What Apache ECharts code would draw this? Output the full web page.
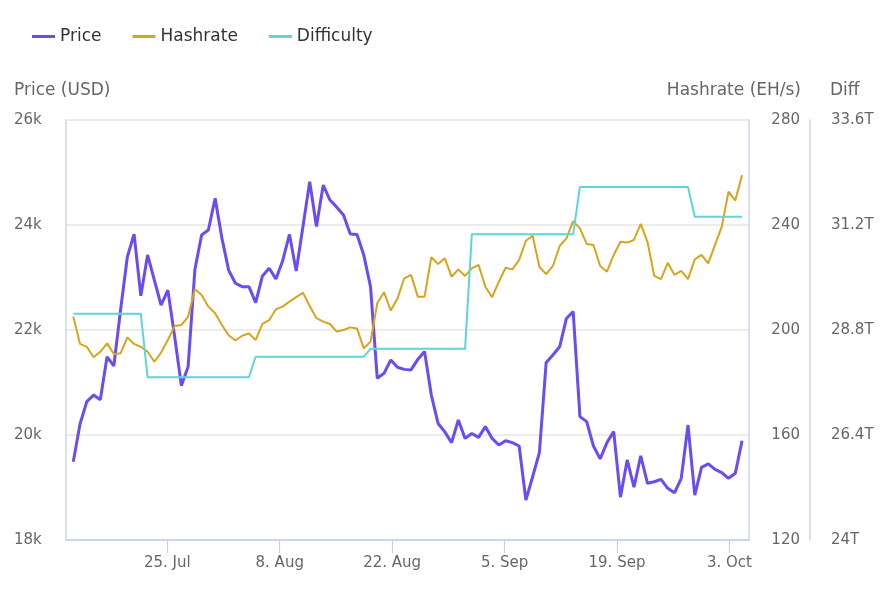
<!DOCTYPE html>
<html>
<head>
<meta charset="utf-8">
<script src="https://cdn.jsdelivr.net/npm/echarts@6/dist/echarts.min.js"></script>
<style>
  html, body { margin: 0; padding: 0; background: #fff; }
  #chart { width: 893px; height: 595px; }
</style>
</head>
<body>
<div id="chart"></div>
<script>
/* data: 100 samples, 13 Jul - 4 Oct 2022 */
const sampleStart = Date.UTC(2022, 6, 13, 7);
const sampleStepHours = 20.19;

const priceUsd = [
  19490, 20210, 20635, 20760, 20670, 21490, 21315, 22380, 23390, 23825,
  22650, 23430, 22950, 22475, 22760, 21880, 20940, 21300, 23150, 23810,
  23905, 24510, 23750, 23140, 22890, 22825, 22825, 22520, 23030, 23175,
  22970, 23320, 23820, 23125, 23970, 24825, 23970, 24760, 24475, 24340,
  24190, 23830, 23820, 23430, 22825, 21080, 21175, 21430, 21290, 21250,
  21240, 21440, 21590, 20760, 20220, 20060, 19855, 20285, 19935, 20030,
  19955, 20160, 19935, 19810, 19890, 19855, 19790, 18760, 19205, 19665,
  21380, 21525, 21680, 22220, 22350, 20350, 20255, 19790, 19545, 19855,
  20065, 18815, 19525, 19005, 19605, 19080, 19110, 19155, 18985, 18900,
  19175, 20190, 18855, 19385, 19450, 19345, 19285, 19175, 19270, 19890
];

const hashrateEh = [
  205.1, 194.7, 193.6, 189.6, 191.7, 194.9, 190.9, 191.1, 197.2, 194.7,
  193.6, 191.7, 187.9, 191.4, 196.2, 201.5, 201.9, 205.1, 215.5, 213.3,
  208.9, 206.4, 201.9, 198.0, 196.0, 197.8, 198.7, 196.2, 202.3, 203.8,
  207.9, 208.9, 210.8, 212.5, 214.2, 209.1, 204.5, 203.2, 202.3, 199.4,
  200.0, 201.0, 200.6, 193.0, 195.5, 210.2, 214.4, 207.4, 212.1, 219.7,
  221.0, 212.7, 212.7, 227.7, 225.1, 227.3, 220.3, 223.1, 220.6, 223.5,
  224.8, 216.5, 212.5, 218.4, 223.7, 223.1, 226.7, 234.0, 235.9, 224.1,
  221.3, 224.4, 232.0, 234.9, 241.5, 238.7, 232.8, 232.4, 224.4, 222.2,
  228.6, 233.6, 233.3, 234.3, 240.4, 233.6, 220.6, 219.4, 225.6, 221.0,
  222.5, 219.4, 226.9, 228.6, 225.4, 232.4, 239.4, 252.7, 249.3, 259.0
];

// difficulty in T
const difficultyT = [
  29.17, 29.17, 29.17, 29.17, 29.17, 29.17, 29.17, 29.17, 29.17, 29.17,
  29.17, 27.72, 27.72, 27.72, 27.72, 27.72, 27.72, 27.72, 27.72, 27.72,
  27.72, 27.72, 27.72, 27.72, 27.72, 27.72, 27.72, 28.19, 28.19, 28.19,
  28.19, 28.19, 28.19, 28.19, 28.19, 28.19, 28.19, 28.19, 28.19, 28.19,
  28.19, 28.19, 28.19, 28.19, 28.37, 28.37, 28.37, 28.37, 28.37, 28.37,
  28.37, 28.37, 28.37, 28.37, 28.37, 28.37, 28.37, 28.37, 28.37, 30.99,
  30.99, 30.99, 30.99, 30.99, 30.99, 30.99, 30.99, 30.99, 30.99, 30.99,
  30.99, 30.99, 30.99, 30.99, 30.99, 32.07, 32.07, 32.07, 32.07, 32.07,
  32.07, 32.07, 32.07, 32.07, 32.07, 32.07, 32.07, 32.07, 32.07, 32.07,
  32.07, 32.07, 31.39, 31.39, 31.39, 31.39, 31.39, 31.39, 31.39, 31.39
];

const tickDates = ['2022-07-25', '2022-08-08', '2022-08-22', '2022-09-05', '2022-09-19', '2022-10-03'];
const monthNames = ['Jan', 'Feb', 'Mar', 'Apr', 'May', 'Jun', 'Jul', 'Aug', 'Sep', 'Oct', 'Nov', 'Dec'];

const FONT = 'DejaVu Sans';
const axisBlue = '#ccd6eb';

function sampleTime(i) {
  return sampleStart + i * sampleStepHours * 3600 * 1000;
}
function pairs(values) {
  return values.map(function (v, i) { return [sampleTime(i), v]; });
}
const tickTimes = tickDates.map(function (d) { return Date.parse(d + 'T00:00:00Z'); });

var chart = echarts.init(document.getElementById('chart'));

var option = {
  animation: false,
  backgroundColor: '#fff',
  textStyle: { fontFamily: FONT },
  legend: {
    left: 27,
    top: 23,
    icon: 'rect',
    itemWidth: 23,
    itemHeight: 3,
    itemGap: 31,
    textStyle: { fontFamily: FONT, fontSize: 17, color: '#333' },
    data: ['Price', 'Hashrate', 'Difficulty']
  },
  grid: { left: 66, right: 144, top: 120, bottom: 55, containLabel: false, outerBoundsMode: 'none' },
  graphic: [
    { type: 'text', left: 14, top: 82, style: { text: 'Price (USD)', font: '17px "DejaVu Sans"', fill: '#666' } },
    { type: 'text', right: 92, top: 82, style: { text: 'Hashrate (EH/s)', font: '17px "DejaVu Sans"', fill: '#666' } },
    { type: 'text', left: 830, top: 82, style: { text: 'Diff', font: '17px "DejaVu Sans"', fill: '#666' } }
  ],
  xAxis: {
    type: 'value',
    min: Date.UTC(2022, 6, 12, 9, 14),
    max: Date.UTC(2022, 9, 5, 10, 34),
    axisLine: { show: true, onZero: false, lineStyle: { color: axisBlue, width: 2 } },
    axisTick: { show: true, length: 13, lineStyle: { color: '#c3cfe8', width: 1.2 }, customValues: tickTimes },
    axisLabel: {
      customValues: tickTimes,
      margin: 16,
      fontFamily: FONT,
      fontSize: 15,
      color: '#666',
      formatter: function (v) {
        var d = new Date(v);
        return d.getUTCDate() + '. ' + monthNames[d.getUTCMonth()];
      }
    },
    splitLine: { show: false }
  },
  yAxis: [
    {
      type: 'value',
      position: 'left',
      min: 18000,
      max: 26000,
      interval: 2000,
      axisLine: { show: true, lineStyle: { color: axisBlue, width: 1.5 } },
      axisTick: { show: false },
      splitLine: { show: true, lineStyle: { color: '#e6e6e6', width: 1.5 } },
      axisLabel: {
        align: 'left',
        margin: 52,
        fontFamily: FONT,
        fontSize: 15,
        color: '#666',
        formatter: function (v) { return (v / 1000) + 'k'; }
      }
    },
    {
      type: 'value',
      position: 'right',
      min: 120,
      max: 280,
      interval: 40,
      axisLine: { show: true, lineStyle: { color: axisBlue, width: 1.5 } },
      axisTick: { show: false },
      splitLine: { show: false },
      axisLabel: { align: 'right', margin: 51, fontFamily: FONT, fontSize: 15, color: '#666' }
    },
    {
      type: 'value',
      position: 'right',
      offset: 61,
      min: 24,
      max: 33.6,
      interval: 2.4,
      axisLine: { show: true, lineStyle: { color: axisBlue, width: 1.5 } },
      axisTick: { show: false },
      splitLine: { show: false },
      axisLabel: {
        align: 'left',
        margin: 21,
        fontFamily: FONT,
        fontSize: 15,
        color: '#666',
        formatter: function (v) { return (+v.toFixed(1)) + 'T'; }
      }
    }
  ],
  series: [
    {
      name: 'Price',
      type: 'line',
      yAxisIndex: 0,
      showSymbol: false,
      symbol: 'none',
      color: '#6a4cf2',
      lineStyle: { width: 3, color: '#6a4cf2' },
      data: pairs(priceUsd)
    },
    {
      name: 'Hashrate',
      type: 'line',
      yAxisIndex: 1,
      showSymbol: false,
      symbol: 'none',
      color: '#d6a51c',
      lineStyle: { width: 2, color: '#d6a51c' },
      data: pairs(hashrateEh)
    },
    {
      name: 'Difficulty',
      type: 'line',
      yAxisIndex: 2,
      showSymbol: false,
      symbol: 'none',
      color: '#5fd4d9',
      lineStyle: { width: 2, color: '#5fd4d9' },
      data: pairs(difficultyT)
    }
  ]
};

chart.setOption(option);
</script>
</body>
</html>
